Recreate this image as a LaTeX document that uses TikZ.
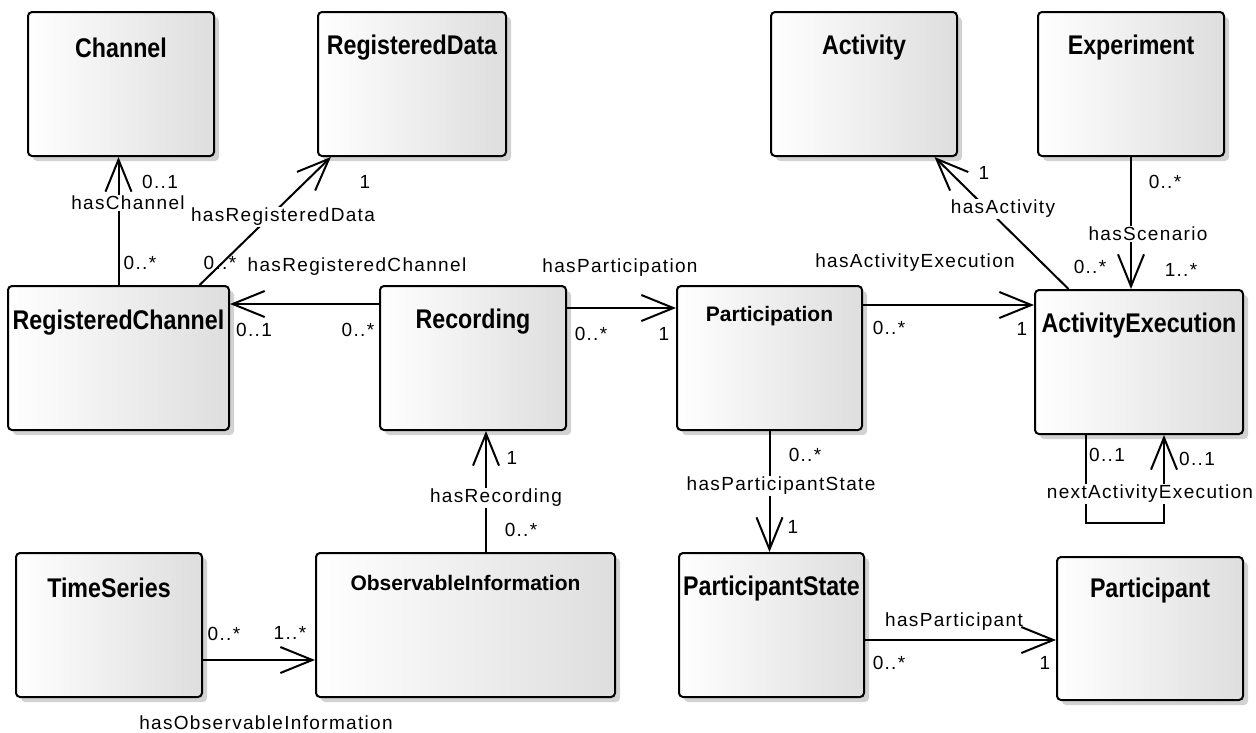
\documentclass[tikz,border=0pt]{standalone}
\usepackage{fontspec}
\setmainfont{Liberation Sans}
\newfontfamily\titlefont[FakeStretch=0.86]{Liberation Sans}
\newfontfamily\lblfont[LetterSpace=7]{Liberation Sans}
\usetikzlibrary{arrows.meta,calc,shadows}

\begin{document}
\begin{tikzpicture}[x=1pt,y=-1pt,
	cls/.style={draw, line width=2pt, rounded corners=4pt, left color=white, right color=black!13,
		drop shadow={shadow xshift=5pt,shadow yshift=-5pt,fill=black!35,opacity=0.5},
		minimum width=186pt, minimum height=144pt},
	ttl/.style={font=\titlefont\fontsize{27}{30}\selectfont\bfseries, inner sep=0pt},
	sttl/.style={font=\fontsize{21}{24}\selectfont\bfseries, inner sep=0pt},
	lbl/.style={font=\lblfont\fontsize{19}{22}\selectfont, inner sep=1pt},
	role/.style={lbl, fill=white},
	assoc/.style={line width=2pt, -{Straight Barb[length=32pt,width=26pt]}}]
	\useasboundingbox (0,0) rectangle (1256,732);

	% classes
	\node[cls] (chan) at (121,84) {};
	\node[cls, minimum width=188pt] (rdata) at (412,84) {};
	\node[cls] (act) at (864,84) {};
	\node[cls] (exper) at (1131,84) {};
	\node[cls, minimum width=221pt] (rchan) at (118.5,358) {};
	\node[cls] (rec) at (473,358) {};
	\node[cls, minimum width=185pt] (part) at (769.5,358) {};
	\node[cls, minimum width=208pt] (aexec) at (1139,362) {};
	\node[cls] (tser) at (109,625) {};
	\node[cls, minimum width=299pt] (obsinf) at (465.5,625) {};
	\node[cls, minimum width=185pt] (pstate) at (771.5,625) {};
	\node[cls, minimum height=143pt] (ptcp) at (1150,628.5) {};

	\node[ttl] (chanT) at ([yshift=-37pt]chan.north) {Channel};
	\node[ttl] (rdataT) at ([yshift=-37pt]rdata.north) {RegisteredData};
	\node[ttl] (actT) at ([yshift=-37pt]act.north) {Activity};
	\node[ttl] (experT) at ([yshift=-37pt]exper.north) {Experiment};
	\node[ttl] (rchanT) at ([yshift=-38pt]rchan.north) {RegisteredChannel};
	\node[ttl] (recT) at ([yshift=-37pt]rec.north) {Recording};
	\node[sttl] (partT) at ([yshift=-31pt]part.north) {Participation};
	\node[ttl] (aexecT) at ([yshift=-37pt]aexec.north) {ActivityExecution};
	\node[ttl] (tserT) at ([yshift=-36pt]tser.north) {TimeSeries};
	\node[sttl] (obsinfT) at ([yshift=-31pt]obsinf.north) {ObservableInformation};
	\node[ttl] (pstateT) at ([yshift=-37pt]pstate.north) {ParticipantState};
	\node[ttl] (ptcpT) at ([yshift=-35pt]ptcp.north) {Participant};

	% associations
	\draw[assoc] (rchan.north) -- (rchan.north |- chan.south);
	\draw[assoc] (rchan.42) -- (rdata.222);
	\draw[assoc] ($(rec.north west)+(0,19)$) -- ($(rchan.north east)+(0,19)$);
	\draw[assoc] ($(rec.north east)+(0,23)$) -- ($(part.north west)+(0,23)$);
	\draw[assoc] ($(part.north east)+(0,20)$) -- ($(aexec.north west)+(0,16)$);
	\draw[assoc] (aexec.134) -- (act.-46);
	\draw[assoc] (exper.south) -- (exper.south |- aexec.north);
	\draw[assoc] ($(aexec.south)+(-53,0)$) -- ++(0,88) -| ($(aexec.south)+(25,0)$);
	\draw[assoc] ($(obsinf.north)+(20.5,0)$) -- ($(rec.south)+(13,0)$);
	\draw[assoc] (part.south) -- (part.south |- pstate.north);
	\draw[assoc] ($(tser.east)+(0,35)$) -- ($(obsinf.west)+(0,35)$);
	\draw[assoc] ($(pstate.east)+(0,15)$) -- ($(ptcp.west)+(0,11.5)$);

	% role names and multiplicities
	\node[role] (hasChanL) at (128,203) {hasChannel};
	\node[lbl] (chanM) at (160,182) {0..1};
	\node[lbl] (rchanM1) at (140,263) {0..*};
	\node[role] (hasRdataL) at (283,217) {hasRegisteredData};
	\node[lbl] (rdataM) at (365,182) {1};
	\node[lbl] (rchanM2) at (220,263) {0..*};
	\node[lbl] (hasRchanL) at (357,267) {hasRegisteredChannel};
	\node[lbl] (rchanM3) at (254,330) {0..1};
	\node[lbl] (recM1) at (358,330) {0..*};
	\node[lbl] (hasPartL) at (620,268) {hasParticipation};
	\node[lbl] (recM2) at (591,334) {0..*};
	\node[lbl] (partM1) at (664,334) {1};
	\node[lbl] (hasAexecL) at (915,263) {hasActivityExecution};
	\node[lbl] (partM2) at (889,328) {0..*};
	\node[lbl] (aexecM1) at (1022,329) {1};
	\node[role] (hasActL) at (1003,209) {hasActivity};
	\node[lbl] (actM) at (984,173) {1};
	\node[lbl] (aexecM2) at (1090,267) {0..*};
	\node[role] (hasScenL) at (1148,234) {hasScenario};
	\node[lbl] (experM) at (1165,182) {0..*};
	\node[lbl] (aexecM3) at (1181,270) {1..*};
	\node[role] (nextL) at (1150,494) {nextActivityExecution};
	\node[lbl] (aexecM4) at (1107,455) {0..1};
	\node[lbl] (aexecM5) at (1197,459) {0..1};
	\node[role] (hasRecL) at (496,498) {hasRecording};
	\node[lbl] (recM3) at (512,458) {1};
	\node[lbl] (obsinfM1) at (521,530) {0..*};
	\node[role] (hasPstateL) at (781,486) {hasParticipantState};
	\node[lbl] (partM3) at (805,455) {0..*};
	\node[lbl] (pstateM) at (793,527) {1};
	\node[lbl] (hasObsL) at (266,723) {hasObservableInformation};
	\node[lbl] (tserM) at (224,634) {0..*};
	\node[lbl] (obsinfM2) at (290,633) {1..*};
	\node[lbl] (hasPtcpL) at (954,622) {hasParticipant};
	\node[lbl] (pstateM2) at (889,663) {0..*};
	\node[lbl] (ptcpM) at (1045,663) {1};
\end{tikzpicture}
\end{document}
